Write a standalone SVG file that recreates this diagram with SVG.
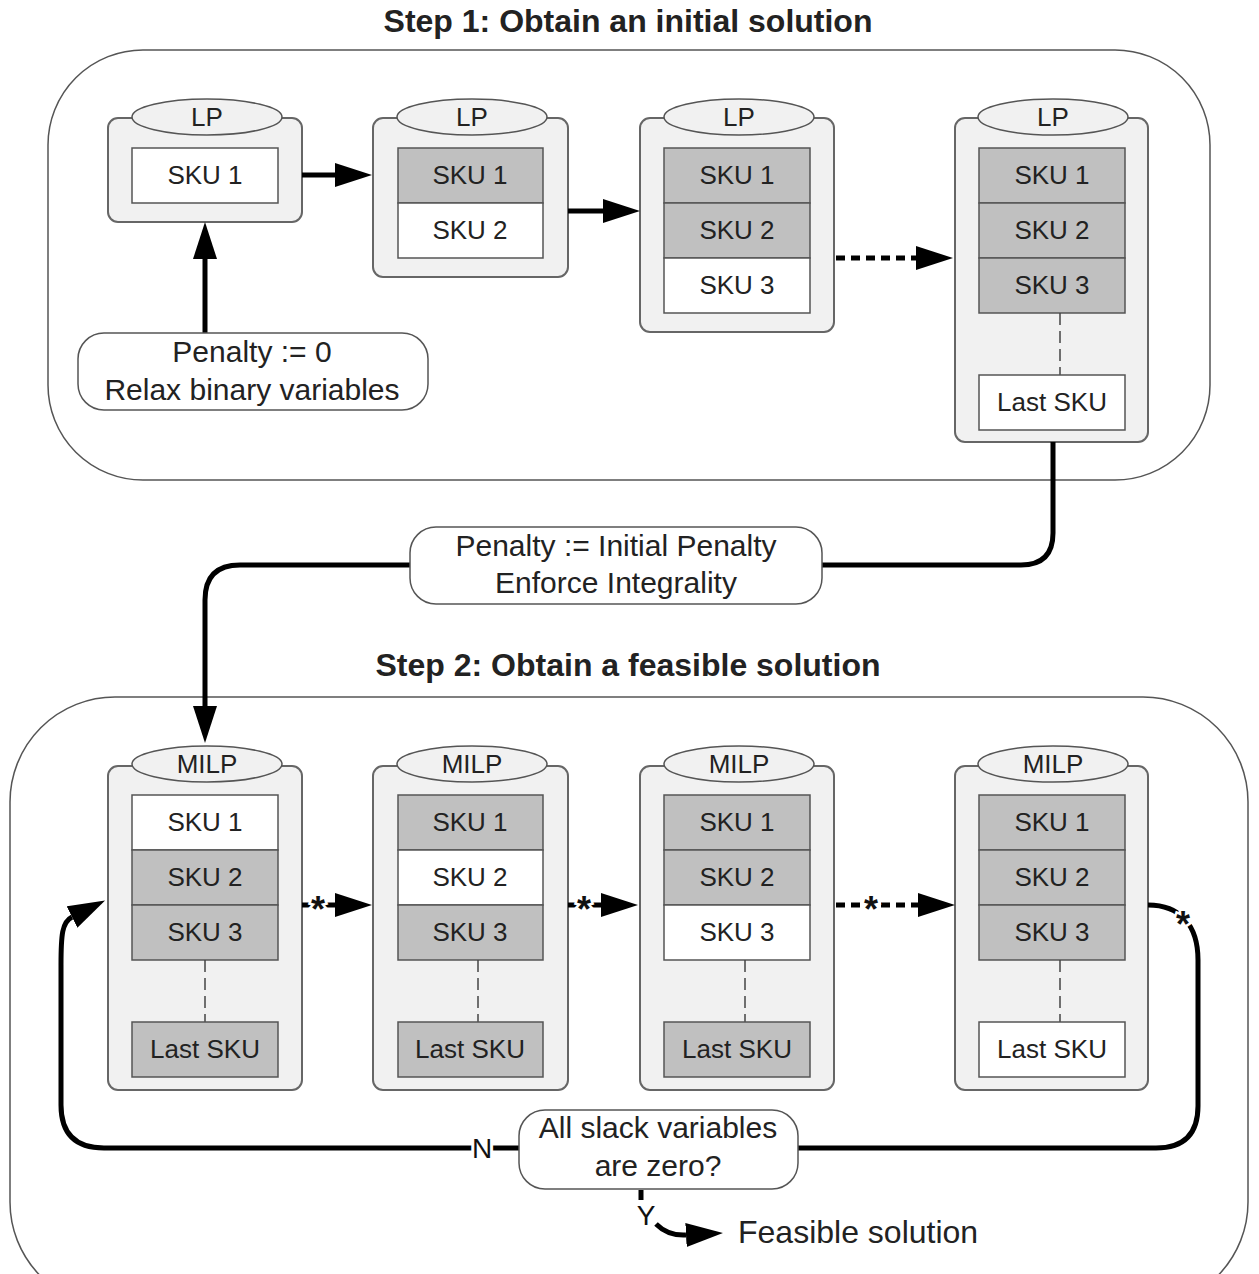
<svg xmlns="http://www.w3.org/2000/svg" width="1259" height="1274" viewBox="0 0 1259 1274">
<defs>
<style>
text{font-family:"Liberation Sans",Arial,sans-serif;fill:#222;}
.title{font-size:32px;font-weight:bold;text-anchor:middle;}
.area{fill:#fff;stroke:#555;stroke-width:1.5;}
.cont{fill:#f1f1f1;stroke:#666;stroke-width:2;}
.cap{fill:#f1f1f1;stroke:#555;stroke-width:1.5;}
.sku{fill:#fff;stroke:#555;stroke-width:1.5;}
.skug{fill:#c0c0c0;stroke:#555;stroke-width:1.5;}
.lbl{font-size:26px;text-anchor:middle;}
.big{font-size:30px;text-anchor:middle;}
.dash{stroke:#444;stroke-width:1.5;stroke-dasharray:12 6;fill:none;}
.box{fill:#fff;stroke:#555;stroke-width:1.5;}
.ln{fill:none;stroke:#000;stroke-width:5;}
.dot{fill:none;stroke:#000;stroke-width:5;stroke-dasharray:9 6;}
.star{font-size:36px;font-weight:bold;text-anchor:middle;fill:#111;stroke:#fff;stroke-width:5;paint-order:stroke;}
.halo{font-size:28px;text-anchor:middle;fill:#111;stroke:#fff;stroke-width:6;paint-order:stroke;}
</style>
<marker id="ah" markerUnits="userSpaceOnUse" markerWidth="38" markerHeight="26" refX="0" refY="12" orient="auto">
<path d="M0,0 L37,12 L0,24 Z" fill="#000"/>
</marker>
</defs>

<text class="title" x="628" y="32">Step 1: Obtain an initial solution</text>
<text class="title" x="628" y="676">Step 2: Obtain a feasible solution</text>

<rect id="step1" class="area" x="48" y="50" width="1162" height="430" rx="95" ry="95"/>
<rect id="step2" class="area" x="10" y="697" width="1238" height="610" rx="105" ry="105"/>

<!-- Step 1 LP nodes -->
<g id="lp1">
<rect class="cont" x="108" y="118" width="194" height="104" rx="10"/>
<ellipse class="cap" cx="207" cy="117" rx="75" ry="18"/>
<text class="lbl" x="207" y="126">LP</text>
<rect class="sku" x="132" y="148" width="146" height="55"/>
<text class="lbl" x="205" y="184">SKU 1</text>
</g>
<g id="lp2">
<rect class="cont" x="373" y="118" width="195" height="159" rx="10"/>
<ellipse class="cap" cx="472" cy="117" rx="75" ry="18"/>
<text class="lbl" x="472" y="126">LP</text>
<rect class="skug" x="398" y="148" width="145" height="55"/>
<text class="lbl" x="470" y="184">SKU 1</text>
<rect class="sku" x="398" y="203" width="145" height="55"/>
<text class="lbl" x="470" y="239">SKU 2</text>
</g>
<g id="lp3">
<rect class="cont" x="640" y="118" width="194" height="214" rx="10"/>
<ellipse class="cap" cx="739" cy="117" rx="75" ry="18"/>
<text class="lbl" x="739" y="126">LP</text>
<rect class="skug" x="664" y="148" width="146" height="55"/>
<text class="lbl" x="737" y="184">SKU 1</text>
<rect class="skug" x="664" y="203" width="146" height="55"/>
<text class="lbl" x="737" y="239">SKU 2</text>
<rect class="sku" x="664" y="258" width="146" height="55"/>
<text class="lbl" x="737" y="294">SKU 3</text>
</g>
<g id="lp4">
<rect class="cont" x="955" y="118" width="193" height="324" rx="10"/>
<ellipse class="cap" cx="1053" cy="117" rx="75" ry="18"/>
<text class="lbl" x="1053" y="126">LP</text>
<rect class="skug" x="979" y="148" width="146" height="55"/>
<text class="lbl" x="1052" y="184">SKU 1</text>
<rect class="skug" x="979" y="203" width="146" height="55"/>
<text class="lbl" x="1052" y="239">SKU 2</text>
<rect class="skug" x="979" y="258" width="146" height="55"/>
<text class="lbl" x="1052" y="294">SKU 3</text>
<line class="dash" x1="1060" y1="313" x2="1060" y2="375"/>
<rect class="sku" x="979" y="375" width="146" height="55"/>
<text class="lbl" x="1052" y="411">Last SKU</text>
</g>

<!-- Step 2 MILP nodes -->
<g id="milp1">
<rect class="cont" x="108" y="766" width="194" height="324" rx="10"/>
<ellipse class="cap" cx="207" cy="764" rx="75" ry="18"/>
<text class="lbl" x="207" y="773">MILP</text>
<rect class="sku" x="132" y="795" width="146" height="55"/>
<text class="lbl" x="205" y="831">SKU 1</text>
<rect class="skug" x="132" y="850" width="146" height="55"/>
<text class="lbl" x="205" y="886">SKU 2</text>
<rect class="skug" x="132" y="905" width="146" height="55"/>
<text class="lbl" x="205" y="941">SKU 3</text>
<line class="dash" x1="205" y1="960" x2="205" y2="1022"/>
<rect class="skug" x="132" y="1022" width="146" height="55"/>
<text class="lbl" x="205" y="1058">Last SKU</text>
</g>
<g id="milp2">
<rect class="cont" x="373" y="766" width="195" height="324" rx="10"/>
<ellipse class="cap" cx="472" cy="764" rx="75" ry="18"/>
<text class="lbl" x="472" y="773">MILP</text>
<rect class="skug" x="398" y="795" width="145" height="55"/>
<text class="lbl" x="470" y="831">SKU 1</text>
<rect class="sku" x="398" y="850" width="145" height="55"/>
<text class="lbl" x="470" y="886">SKU 2</text>
<rect class="skug" x="398" y="905" width="145" height="55"/>
<text class="lbl" x="470" y="941">SKU 3</text>
<line class="dash" x1="478" y1="960" x2="478" y2="1022"/>
<rect class="skug" x="398" y="1022" width="145" height="55"/>
<text class="lbl" x="470" y="1058">Last SKU</text>
</g>
<g id="milp3">
<rect class="cont" x="640" y="766" width="194" height="324" rx="10"/>
<ellipse class="cap" cx="739" cy="764" rx="75" ry="18"/>
<text class="lbl" x="739" y="773">MILP</text>
<rect class="skug" x="664" y="795" width="146" height="55"/>
<text class="lbl" x="737" y="831">SKU 1</text>
<rect class="skug" x="664" y="850" width="146" height="55"/>
<text class="lbl" x="737" y="886">SKU 2</text>
<rect class="sku" x="664" y="905" width="146" height="55"/>
<text class="lbl" x="737" y="941">SKU 3</text>
<line class="dash" x1="745" y1="960" x2="745" y2="1022"/>
<rect class="skug" x="664" y="1022" width="146" height="55"/>
<text class="lbl" x="737" y="1058">Last SKU</text>
</g>
<g id="milp4">
<rect class="cont" x="955" y="766" width="193" height="324" rx="10"/>
<ellipse class="cap" cx="1053" cy="764" rx="75" ry="18"/>
<text class="lbl" x="1053" y="773">MILP</text>
<rect class="skug" x="979" y="795" width="146" height="55"/>
<text class="lbl" x="1052" y="831">SKU 1</text>
<rect class="skug" x="979" y="850" width="146" height="55"/>
<text class="lbl" x="1052" y="886">SKU 2</text>
<rect class="skug" x="979" y="905" width="146" height="55"/>
<text class="lbl" x="1052" y="941">SKU 3</text>
<line class="dash" x1="1060" y1="960" x2="1060" y2="1022"/>
<rect class="sku" x="979" y="1022" width="146" height="55"/>
<text class="lbl" x="1052" y="1058">Last SKU</text>
</g>

<!-- Connectors -->
<g id="connectors">
<line class="ln" x1="302" y1="175" x2="335" y2="175" marker-end="url(#ah)"/>
<line class="ln" x1="568" y1="211" x2="603" y2="211" marker-end="url(#ah)"/>
<line class="dot" x1="836" y1="258" x2="916" y2="258" marker-end="url(#ah)"/>
<line class="ln" x1="205" y1="333" x2="205" y2="259" marker-end="url(#ah)"/>
<path class="ln" d="M1053,442 L1053,533 Q1053,565 1021,565 L822,565"/>
<path class="ln" d="M410,565 L240,565 Q205,565 205,600 L205,706" marker-end="url(#ah)"/>

<line class="ln" x1="302" y1="905" x2="335" y2="905" marker-end="url(#ah)"/>
<text class="star" x="318" y="922">*</text>
<line class="ln" x1="568" y1="905" x2="601" y2="905" marker-end="url(#ah)"/>
<text class="star" x="584" y="922">*</text>
<line class="dot" x1="836" y1="905" x2="918" y2="905" marker-end="url(#ah)"/>
<text class="star" x="871" y="922">*</text>

<path class="ln" d="M1148,905 C1180,905 1198,925 1198,960 L1198,1106 Q1198,1148 1156,1148 L798,1148"/>
<text class="star" x="1183" y="937">*</text>
<path class="ln" d="M519,1148 L104,1148 Q61,1148 61,1105 L61,965 C61,935 62,922 72,917" marker-end="url(#ah)"/>
<text class="halo" x="482" y="1158">N</text>

<line class="ln" x1="641" y1="1190" x2="641" y2="1200"/>
<text class="halo" x="646" y="1225">Y</text>
<path class="ln" d="M656,1224 Q668,1236 686,1235" marker-end="url(#ah)"/>
</g>

<!-- Text nodes -->
<g id="init">
<rect class="box" x="78" y="333" width="350" height="77" rx="26"/>
<text class="big" x="252" y="362">Penalty := 0</text>
<text class="big" x="252" y="400">Relax binary variables</text>
</g>
<g id="enforce">
<rect class="box" x="410" y="527" width="412" height="77" rx="26"/>
<text class="big" x="616" y="556">Penalty := Initial Penalty</text>
<text class="big" x="616" y="593">Enforce Integrality</text>
</g>
<g id="decision">
<rect class="box" x="519" y="1110" width="279" height="79" rx="26"/>
<text class="big" x="658" y="1138">All slack variables</text>
<text class="big" x="658" y="1176">are zero?</text>
</g>
<g id="feasible">
<text style="font-size:32px" x="738" y="1243">Feasible solution</text>
</g>
</svg>
